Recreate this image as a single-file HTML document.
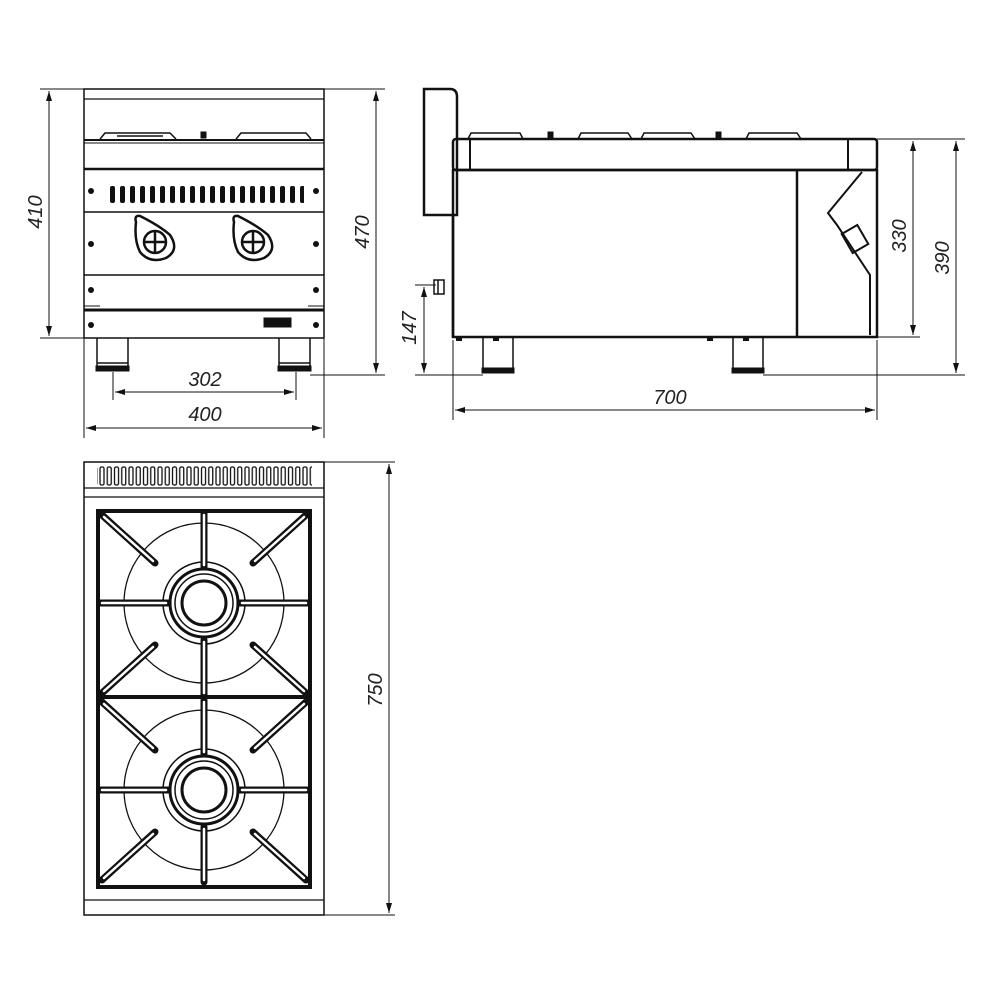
<!DOCTYPE html>
<html><head><meta charset="utf-8"><style>
html,body{margin:0;padding:0;background:#fff;}
svg{display:block}
text{font-family:"Liberation Sans",sans-serif;font-style:italic;font-size:20px;fill:#222;}
</style></head><body>
<svg width="1000" height="1000" viewBox="0 0 1000 1000" xmlns="http://www.w3.org/2000/svg">
<defs>
<pattern id="fs" x="109" y="0" width="10" height="1000" patternUnits="userSpaceOnUse">
<rect x="1" y="186" width="5" height="17" rx="2" fill="#111"/>
</pattern>
<pattern id="ts" x="99" y="0" width="7.25" height="1000" patternUnits="userSpaceOnUse">
<rect x="1" y="467" width="4" height="18" rx="1.5" fill="none" stroke="#111" stroke-width="1.3"/>
</pattern>
<marker id="a" markerWidth="10" markerHeight="6" refX="10" refY="3" orient="auto" markerUnits="userSpaceOnUse"><path d="M0,0 L10,3 L0,6z" fill="#111"/></marker>
<marker id="b" markerWidth="10" markerHeight="6" refX="0" refY="3" orient="auto" markerUnits="userSpaceOnUse"><path d="M10,0 L0,3 L10,6z" fill="#111"/></marker>
</defs>
<g fill="none" stroke="#111">
<!-- FRONT VIEW -->
<rect x="84" y="89" width="240" height="249" stroke-width="1.5"/>
<line x1="84" y1="99" x2="324" y2="99" stroke-width="1.2"/>
<path d="M100,139 L105,133 L170,133 L176,139 M117,136 L163,136 M236,139 L241,133 L306,133 L311,139" stroke-width="1.5"/>
<rect x="201" y="132" width="5" height="6" fill="#111"/>
<line x1="84" y1="140" x2="324" y2="140" stroke-width="2"/>
<line x1="84" y1="143" x2="324" y2="143" stroke-width="1"/>
<line x1="84" y1="169" x2="324" y2="169" stroke-width="2.5"/>
<line x1="84" y1="212" x2="324" y2="212" stroke-width="1.5"/>
<line x1="84" y1="275" x2="324" y2="275" stroke-width="1.5"/>
<line x1="84" y1="310" x2="324" y2="310" stroke-width="3"/>
<line x1="84" y1="306" x2="100" y2="306" stroke-width="1"/>
<line x1="308" y1="306" x2="324" y2="306" stroke-width="1"/>
<rect x="109" y="180" width="195" height="30" fill="url(#fs)" stroke="none"/>
<rect x="264" y="318" width="27" height="9" fill="#111"/>
<g fill="#111" stroke="none">
<circle cx="91" cy="191" r="3"/><circle cx="316" cy="191" r="3"/>
<circle cx="91" cy="244" r="3"/><circle cx="316" cy="244" r="3"/>
<circle cx="91" cy="290" r="3"/><circle cx="316" cy="290" r="3"/>
<circle cx="91" cy="325" r="3"/><circle cx="316" cy="325" r="3"/>
</g>
<g stroke-width="2.5">
<path d="M136,222 Q134,215 140,216 Q160,226 170,235 Q180,250 166,258 Q150,264 140,252 Q134,240 136,222z"/>
<circle cx="155" cy="242" r="11"/><line x1="155" y1="230" x2="155" y2="254"/><line x1="145" y1="242" x2="166" y2="242"/>
<path d="M234,222 Q232,215 238,216 Q258,226 268,235 Q278,250 264,258 Q248,264 238,252 Q232,240 234,222z"/>
<circle cx="253" cy="242" r="11"/><line x1="253" y1="230" x2="253" y2="254"/><line x1="243" y1="242" x2="264" y2="242"/>
</g>
<path d="M97,338 L97,370 L128,370 L128,338 M97,363 L128,363 M279,338 L279,370 L310,370 L310,338 M279,363 L310,363" stroke-width="1.5"/>
<rect x="96" y="366" width="33" height="5" fill="#111"/><rect x="278" y="366" width="33" height="5" fill="#111"/>
<!-- front dims -->
<g stroke-width="1">
<line x1="40" y1="89" x2="84" y2="89"/><line x1="40" y1="338" x2="84" y2="338"/>
<line x1="49" y1="91" x2="49" y2="336" marker-start="url(#b)" marker-end="url(#a)"/>
<line x1="324" y1="89" x2="385" y2="89"/><line x1="310" y1="375" x2="385" y2="375"/>
<line x1="376" y1="91" x2="376" y2="373" marker-start="url(#b)" marker-end="url(#a)"/>
<line x1="113" y1="372" x2="113" y2="400"/><line x1="296" y1="372" x2="296" y2="400"/>
<line x1="115" y1="392" x2="294" y2="392" marker-start="url(#b)" marker-end="url(#a)"/>
<line x1="84" y1="338" x2="84" y2="438"/><line x1="324" y1="338" x2="324" y2="438"/>
<line x1="86" y1="428" x2="322" y2="428" marker-start="url(#b)" marker-end="url(#a)"/>
</g>
<!-- SIDE VIEW -->
<path d="M424,89 L450,89 Q457,89 457,97 L457,215 L424,215z" stroke-width="2.5"/>
<path d="M453,215 L453,337" stroke-width="2.5"/>
<rect x="453" y="139" width="424" height="31" rx="3" stroke-width="2.5"/>
<line x1="470" y1="139" x2="470" y2="170" stroke-width="2"/>
<line x1="848" y1="139" x2="848" y2="170" stroke-width="2"/>
<path d="M468,139 L471,133 L520,133 L523,139 M578,139 L581,133 L628,133 L632,139 M641,139 L644,133 L691,133 L695,139 M746,139 L749,133 L797,133 L801,139" stroke-width="1.5"/>
<rect x="548" y="132" width="5" height="7" fill="#111"/><rect x="716" y="132" width="5" height="7" fill="#111"/>
<rect x="453" y="170" width="424" height="167" stroke-width="2.5"/>
<line x1="797" y1="170" x2="797" y2="337" stroke-width="2.5"/>
<path d="M862,172 L828,213 L837,225 L870,275 L870,335" stroke-width="2"/>
<rect x="846" y="228" width="18" height="22" transform="rotate(-30 855 239)" stroke-width="2"/>
<path d="M434,280 L444,280 L444,294 L434,294z M438,280 L438,294" stroke-width="1.5"/>
<path d="M483,337 L483,372 L513,372 L513,337 M733,337 L733,372 L763,372 L763,337" stroke-width="1.5"/>
<rect x="482" y="368" width="32" height="5" fill="#111"/><rect x="732" y="368" width="32" height="5" fill="#111"/>
<g fill="#111" stroke="none"><rect x="456" y="337" width="6" height="4"/><rect x="493" y="337" width="6" height="4"/><rect x="707" y="337" width="6" height="4"/><rect x="743" y="337" width="6" height="4"/></g>
<!-- side dims -->
<g stroke-width="1">
<line x1="877" y1="139" x2="965" y2="139"/><line x1="870" y1="337" x2="920" y2="337"/>
<line x1="763" y1="375" x2="965" y2="375"/><line x1="415" y1="375" x2="483" y2="375"/>
<line x1="415" y1="285" x2="436" y2="285"/>
<line x1="913" y1="141" x2="913" y2="335" marker-start="url(#b)" marker-end="url(#a)"/>
<line x1="956" y1="141" x2="956" y2="373" marker-start="url(#b)" marker-end="url(#a)"/>
<line x1="424" y1="287" x2="424" y2="373" marker-start="url(#b)" marker-end="url(#a)"/>
<line x1="453" y1="340" x2="453" y2="420"/><line x1="877" y1="340" x2="877" y2="420"/>
<line x1="455" y1="410" x2="875" y2="410" marker-start="url(#b)" marker-end="url(#a)"/>
</g>
<!-- TOP VIEW -->
<rect x="84" y="462" width="240" height="453" stroke-width="1.5"/>
<rect x="97" y="462" width="215" height="26" fill="url(#ts)" stroke="none"/>
<line x1="84" y1="488" x2="324" y2="488" stroke-width="1.2"/>
<line x1="84" y1="497" x2="324" y2="497" stroke-width="1.2"/>
<line x1="84" y1="900" x2="324" y2="900" stroke-width="1.2"/>
<rect x="98" y="511" width="212" height="376" stroke-width="4"/>
<line x1="98" y1="697" x2="310" y2="697" stroke-width="4"/>
<g id="bu">
<circle cx="204" cy="603" r="80" stroke-width="1.3"/>
<circle cx="204" cy="603" r="41" stroke-width="1.5"/>
<circle cx="204" cy="603" r="34" stroke-width="3"/>
<circle cx="204" cy="603" r="29" stroke-width="1.5"/>
<circle cx="204" cy="603" r="22" stroke-width="3"/>
<g stroke-width="7" stroke-linecap="round"><line x1="204" y1="513" x2="204" y2="567"/><line x1="204" y1="640" x2="204" y2="695"/>
<line x1="100" y1="603" x2="168" y2="603"/><line x1="240" y1="603" x2="308" y2="603"/>
<line x1="102" y1="515" x2="155" y2="563"/><line x1="306" y1="515" x2="253" y2="563"/>
<line x1="102" y1="693" x2="155" y2="645"/><line x1="306" y1="693" x2="253" y2="645"/></g>
<g stroke="#fff" stroke-width="2.5" stroke-linecap="round"><line x1="204" y1="515" x2="204" y2="565"/><line x1="204" y1="642" x2="204" y2="693"/>
<line x1="102" y1="603" x2="166" y2="603"/><line x1="242" y1="603" x2="306" y2="603"/>
<line x1="104" y1="517" x2="153" y2="561"/><line x1="304" y1="517" x2="255" y2="561"/>
<line x1="104" y1="691" x2="153" y2="647"/><line x1="304" y1="691" x2="255" y2="647"/></g>
</g>
<use href="#bu" transform="translate(0,187)"/>
<!-- 750 dim -->
<g stroke-width="1">
<line x1="324" y1="462" x2="395" y2="462"/><line x1="324" y1="915" x2="395" y2="915"/>
<line x1="389" y1="464" x2="389" y2="913" marker-start="url(#b)" marker-end="url(#a)"/>
</g>
</g>
<g>
<text transform="translate(42,212) rotate(-90)" text-anchor="middle">410</text>
<text transform="translate(369,232) rotate(-90)" text-anchor="middle">470</text>
<text x="205" y="386" text-anchor="middle">302</text>
<text x="205" y="421" text-anchor="middle">400</text>
<text transform="translate(416,328) rotate(-90)" text-anchor="middle">147</text>
<text x="670" y="404" text-anchor="middle">700</text>
<text transform="translate(906,236) rotate(-90)" text-anchor="middle">330</text>
<text transform="translate(949,258) rotate(-90)" text-anchor="middle">390</text>
<text transform="translate(382,690) rotate(-90)" text-anchor="middle">750</text>
</g>
</svg>
</body></html>
